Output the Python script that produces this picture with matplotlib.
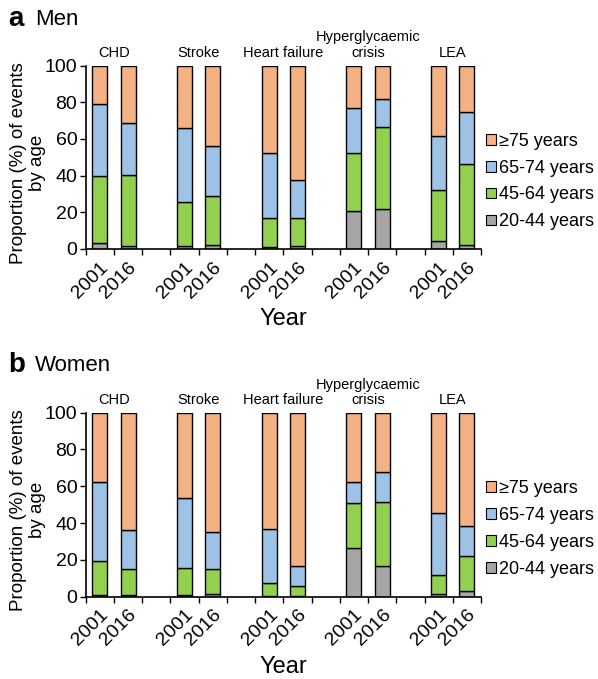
import numpy as np
import matplotlib
matplotlib.use('Agg')
import matplotlib.pyplot as plt
from matplotlib.patches import Patch

plt.rcParams['font.family'] = ['Liberation Sans', 'DejaVu Sans']

# event groups and years
groups = ['CHD', 'Stroke', 'Heart failure', 'Hyperglycaemic\ncrisis', 'LEA']
years = ['2001', '2016']
age_bands = ['20-44 years', '45-64 years', '65-74 years', '\u226575 years']
colors = ['#a6a6a6', '#92d050', '#9dc3e6', '#f4b183']

# cumulative tops (%) for each bar: 20-44, 45-64, 65-74 (rest is >=75)
# order: CHD01, CHD16, Str01, Str16, HF01, HF16, Hyp01, Hyp16, LEA01, LEA16
men_2044 = [3.1, 1.8, 1.5, 2.2, 1.1, 1.5, 20.7, 21.8, 4.4, 2.2]
men_4564 = [40.0, 40.4, 25.5, 28.7, 16.7, 17.1, 52.4, 66.5, 32.0, 46.4]
men_6574 = [79.3, 68.4, 65.8, 56.4, 52.4, 37.8, 77.1, 81.5, 61.8, 74.4]

women_2044 = [0.9, 0.9, 0.9, 1.6, 0.4, 0.3, 26.6, 16.7, 1.4, 3.1]
women_4564 = [19.2, 14.9, 15.4, 15.0, 7.4, 5.6, 50.9, 51.6, 11.8, 22.3]
women_6574 = [62.3, 36.0, 53.6, 35.3, 37.0, 16.8, 62.5, 67.6, 45.5, 38.6]

fig = plt.figure(figsize=(5.98, 6.79), dpi=100)


def draw_panel(ax, c1, c2, c3, letter, title, title_y):
    # slot positions: two bars per group, one blank slot between groups
    pos = []
    for g in range(len(groups)):
        pos += [g * 3, g * 3 + 1]
    pos = np.array(pos)
    tops = [np.array(c1), np.array(c2), np.array(c3), np.full(len(pos), 100.0)]
    bottom = np.zeros(len(pos))
    for top, col in zip(tops, colors):
        ax.bar(pos, top - bottom, bottom=bottom, width=0.53, color=col,
               edgecolor='black', linewidth=1.0)
        bottom = top

    ax.set_xlim(-0.5, 13.5)
    ax.set_ylim(0, 100)
    ax.set_yticks([0, 20, 40, 60, 80, 100])
    ax.tick_params(axis='y', labelsize=14, length=4, width=1, direction='out', pad=2)
    ax.spines['top'].set_visible(False)
    ax.spines['right'].set_visible(False)
    ax.spines['left'].set_linewidth(1.2)
    ax.spines['bottom'].set_linewidth(1.2)

    # tick marks at slot boundaries, labels under bars
    ax.set_xticks(np.arange(-0.5, 14, 1), minor=True)
    ax.tick_params(axis='x', which='minor', length=4, width=1, direction='out')
    ax.set_xticks(pos)
    ax.set_xticklabels(years * len(groups), rotation=45, ha='right',
                       rotation_mode='anchor', fontsize=14)
    ax.tick_params(axis='x', which='major', length=0, pad=7)

    for g, name in enumerate(groups):
        ax.text(g * 3 + 0.5, 103, name, ha='center', va='bottom', fontsize=10.5,
                linespacing=1.15)

    ax.set_ylabel('Proportion (%) of events\nby age', fontsize=13.5, linespacing=1.15,
                  multialignment='center')
    ax.yaxis.set_label_coords(-0.1, 0.47)
    ax.set_xlabel('Year', fontsize=17)
    ax.xaxis.set_label_coords(0.5, -0.32)

    handles = [Patch(facecolor=c, edgecolor='black', linewidth=0.8) for c in colors[::-1]]
    ax.legend(handles, age_bands[::-1], loc='center left', bbox_to_anchor=(1.0, 0.368),
              frameon=False, fontsize=13, handlelength=0.55, handleheight=0.55,
              handletextpad=0.15, labelspacing=0.55, borderaxespad=0.0, borderpad=0.3)

    fig.text(0.013, title_y, letter, fontsize=20, fontweight='bold', va='center')
    fig.text(0.058, title_y, title, fontsize=16, va='center')


ax1 = fig.add_axes([0.1433, 0.6333, 0.661, 0.2702])
draw_panel(ax1, men_2044, men_4564, men_6574, 'a', 'Men', 0.972)

ax2 = fig.add_axes([0.1433, 0.1212, 0.661, 0.2710])
draw_panel(ax2, women_2044, women_4564, women_6574, 'b', 'Women', 0.462)

fig.savefig('out.png', dpi=100)
